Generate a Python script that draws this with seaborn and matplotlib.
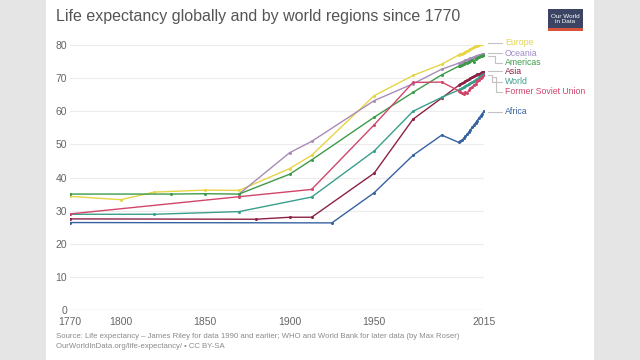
import matplotlib
matplotlib.use("Agg")
import matplotlib.pyplot as plt
from matplotlib.lines import Line2D
from matplotlib.patches import Rectangle
import numpy as np
import pandas as pd
import seaborn as sns

# annual data points at the end of each series
annual = list(range(2000, 2016))

europe_years = [1770, 1800, 1820, 1850, 1870, 1900, 1913, 1950, 1973, 1990] + annual
europe_vals = [34.3, 33.3, 35.6, 36.2, 36.1, 42.7, 46.7, 64.7, 70.8, 74.2,
               77.0, 77.2, 77.4, 77.6, 78.0, 78.2, 78.5, 78.8, 79.0, 79.3, 79.6, 79.8, 80.0, 80.2, 80.4, 80.6]

oceania_years = [1870, 1900, 1913, 1950, 1973, 1990] + annual
oceania_vals = [35.0, 47.5, 50.9, 63.2, 68.3, 72.7,
                74.5, 74.7, 74.9, 75.1, 75.4, 75.6, 75.8, 76.0, 76.2, 76.4, 76.6, 76.8, 77.0, 77.1, 77.3, 77.4]

americas_years = [1770, 1830, 1850, 1870, 1900, 1913, 1950, 1973, 1990] + annual
americas_vals = [35.0, 35.0, 35.1, 35.0, 41.0, 45.3, 58.2, 65.7, 71.0,
                 73.6, 73.8, 74.0, 74.2, 74.5, 74.7, 74.9, 75.2, 75.5, 74.9, 75.9, 76.2, 76.4, 76.6, 76.8, 77.0]

asia_years = [1770, 1880, 1900, 1913, 1950, 1973, 1990] + annual
asia_vals = [27.5, 27.4, 28.0, 28.0, 41.3, 57.6, 64.0,
             67.8, 68.1, 68.4, 68.7, 69.0, 69.3, 69.6, 69.9, 70.2, 70.5, 70.8, 71.1, 71.3, 71.5, 71.8, 72.0]

world_years = [1770, 1820, 1870, 1913, 1950, 1973, 1990] + annual
world_vals = [28.9, 28.9, 29.7, 34.1, 48.0, 60.0, 64.2,
              66.4, 66.7, 67.0, 67.3, 67.6, 67.9, 68.2, 68.5, 68.8, 69.1, 69.5, 69.8, 70.2, 70.6, 71.0, 71.3]

fsu_years = [1770, 1870, 1913, 1950, 1973, 1990] + annual
fsu_vals = [29.0, 34.2, 36.4, 55.9, 68.7, 68.8,
            66.2, 65.9, 65.6, 65.3, 65.7, 65.5, 66.3, 66.9, 67.3, 67.9, 68.3, 69.0, 69.5, 69.9, 70.4, 70.8]

africa_years = [1770, 1925, 1950, 1973, 1990] + annual
africa_vals = [26.4, 26.3, 35.4, 46.7, 52.8,
               50.6, 50.9, 51.3, 51.8, 52.4, 53.0, 53.7, 54.4, 55.1, 55.8, 56.5, 57.2, 57.9, 58.6, 59.3, 60.0]

regions = ["Europe", "Oceania", "Americas", "Asia", "World", "Former Soviet Union", "Africa"]
series = {
    "Europe": (europe_years, europe_vals),
    "Oceania": (oceania_years, oceania_vals),
    "Americas": (americas_years, americas_vals),
    "Asia": (asia_years, asia_vals),
    "World": (world_years, world_vals),
    "Former Soviet Union": (fsu_years, fsu_vals),
    "Africa": (africa_years, africa_vals),
}
colors = {
    "Europe": "#e6d544",
    "Oceania": "#a88cb6",
    "Americas": "#3e9a4a",
    "Asia": "#8d2144",
    "World": "#3a9e8c",
    "Former Soviet Union": "#d2456a",
    "Africa": "#3762a0",
}
text_colors = dict(colors, Oceania="#a18cc8", Europe="#e3d55a")

x_ticks = [1770, 1800, 1850, 1900, 1950, 2015]
y_ticks = [0, 10, 20, 30, 40, 50, 60, 70, 80]

df = pd.concat(
    [pd.DataFrame({"year": series[r][0], "value": series[r][1], "region": r}) for r in regions],
    ignore_index=True,
)

sns.set_style("white")
plt.rcParams["font.family"] = ["Liberation Sans", "DejaVu Sans"]

W, H = 640, 360
fig = plt.figure(figsize=(6.4, 3.6), dpi=100, facecolor="#e5e5e5")
fig.add_artist(Rectangle((46 / W, 0), (594 - 46) / W, 1, transform=fig.transFigure,
                         facecolor="white", edgecolor="none", zorder=0))

def px(x, y):
    return x / W, 1 - y / H

ax = fig.add_axes([70 / W, 1 - 310 / H, (484 - 70) / W, 265 / H])
ax.set_facecolor("none")

sns.lineplot(data=df, x="year", y="value", hue="region", palette=colors,
             hue_order=regions, marker="o", markersize=2.2, markeredgewidth=0,
             linewidth=1.0, legend=False, ax=ax, zorder=3)

ax.set_xlim(1770, 2015)
ax.set_ylim(0, 80)
ax.set_xticks(x_ticks)
ax.set_yticks(y_ticks)
ax.set_xlabel("")
ax.set_ylabel("")
ax.tick_params(axis="both", length=0, labelsize=7.5, labelcolor="#666666")
ax.tick_params(axis="y", pad=2)
ax.tick_params(axis="x", pad=5)
for s in ax.spines.values():
    s.set_visible(False)
ax.yaxis.grid(True, color="#ececec", linewidth=0.8)
ax.xaxis.grid(False)
ax.axhline(0, color="#dddddd", linewidth=0.9, zorder=1)

# titles and source
fig.text(*px(56, 17), "Life expectancy globally and by world regions since 1770",
         fontsize=11.5, color="#555555", va="center", ha="left")
fig.text(*px(56, 337), "Source: Life expectancy – James Riley for data 1990 and earlier; WHO and World Bank for later data (by Max Roser)",
         fontsize=5.6, color="#8a8a8a", va="center", ha="left")
fig.text(*px(56, 346.5), "OurWorldInData.org/life-expectancy/ • CC BY-SA",
         fontsize=5.6, color="#8a8a8a", va="center", ha="left")

# logo
fig.add_artist(Rectangle(px(548, 31), 35 / W, 22 / H, transform=fig.transFigure,
                         facecolor="#3b4563", edgecolor="none"))
fig.add_artist(Rectangle(px(548, 31), 35 / W, 3 / H, transform=fig.transFigure,
                         facecolor="#d9523a", edgecolor="none"))
fig.text(*px(565.5, 19), "Our World\nin Data", fontsize=4.6, color="white",
         ha="center", va="center", linespacing=1.0)

# labels with leader lines
label_y = {"Europe": 42.5, "Oceania": 53, "Americas": 62.5, "Asia": 71.5,
           "World": 81.5, "Former Soviet Union": 91.5, "Africa": 112}
leaders = {
    "Europe": [(488, 43), (502, 43)],
    "Oceania": [(488, 53.3), (502, 53.3)],
    "Americas": [(488, 56), (495, 56), (495, 62.5), (502, 62.5)],
    "Asia": [(488, 71.2), (502, 71.2)],
    "World": [(488, 74.5), (492, 74.5), (492, 81.7), (502, 81.7)],
    "Former Soviet Union": [(492, 76.5), (496, 76.5), (496, 91.7), (502, 91.7)],
    "Africa": [(488, 112), (502, 112)],
}
for r in regions:
    pts = leaders[r]
    fig.add_artist(Line2D([p[0] / W for p in pts], [1 - p[1] / H for p in pts],
                          transform=fig.transFigure, color="#c2c2c2", linewidth=0.8))
    fig.text(*px(505, label_y[r]), r, fontsize=6.3, color=text_colors[r],
             ha="left", va="center")

fig.savefig("out.png", dpi=100, facecolor=fig.get_facecolor())
